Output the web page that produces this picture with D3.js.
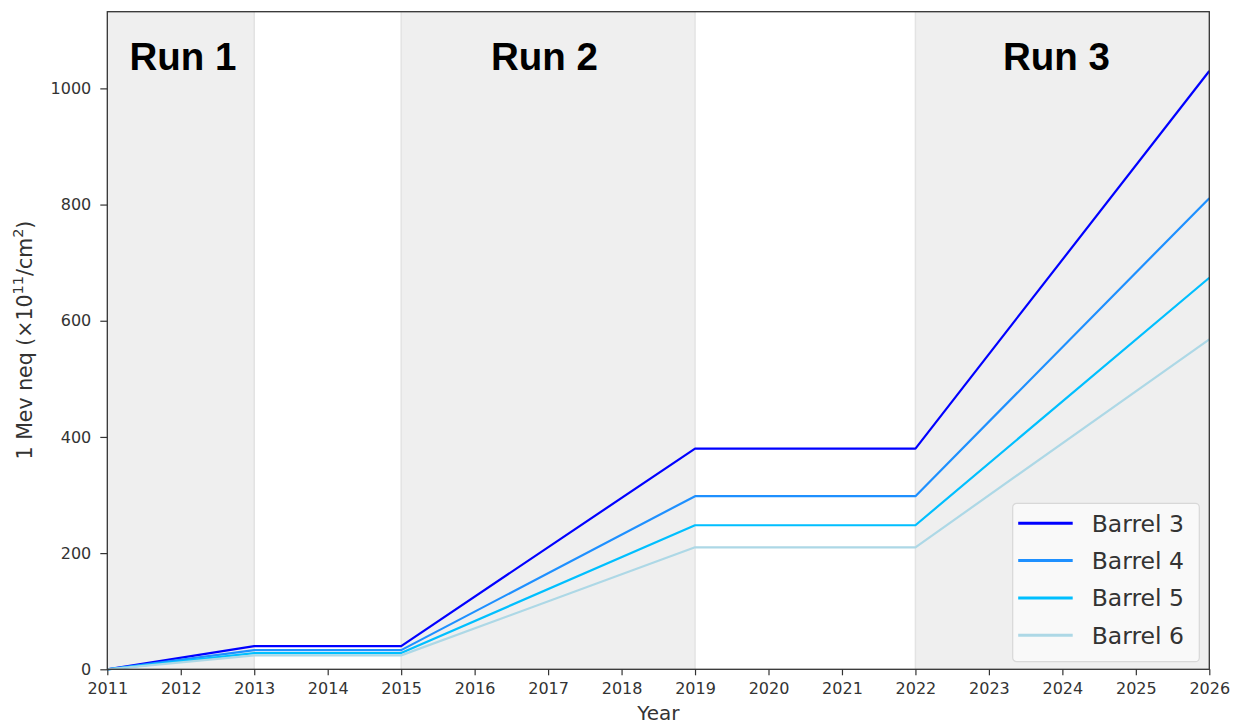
<!DOCTYPE html>
<html>
<head>
<meta charset="utf-8">
<script src="https://cdn.jsdelivr.net/npm/d3@7"></script>
<style>
  html, body { margin: 0; padding: 0; background: #fff; }
  svg { display: block; }
</style>
</head>
<body>
<svg id="chart" width="1235" height="725"></svg>
<script>
// Fluence per barrel layer over the LHC run periods
const years = [2011, 2013, 2015, 2019, 2022, 2026];
const barrel3 = [0, 40, 40, 380, 380, 1030];
const barrel4 = [0, 33, 33, 298, 298, 811];
const barrel5 = [0, 28, 28, 248, 248, 674];
const barrel6 = [0, 24, 24, 210, 210, 568];

const seriesNames = ["Barrel 3", "Barrel 4", "Barrel 5", "Barrel 6"];
const seriesColors = ["#0000ff", "#1e90ff", "#00bfff", "#add8e6"];

// Shaded run periods and their labels
const runNames = ["Run 1", "Run 2", "Run 3"];
const runStart = [2011, 2015, 2022];
const runEnd = [2013, 2019, 2026];
const runLabelX = [2012.03, 2016.95, 2023.92];

const xTicks = d3.range(2011, 2027);
const yTicks = [0, 200, 400, 600, 800, 1000];

const margin = { left: 107.3, right: 1235 - 1209.3, top: 11.7, bottom: 725 - 669.3 };
const W = 1235, H = 725;

const svg = d3.select("#chart");
const x = d3.scaleLinear().domain([2011, 2026]).range([margin.left, W - margin.right]);
const y = d3.scaleLinear().domain([0, 1132]).range([H - margin.bottom, margin.top]);

const tickFont = "'DejaVu Sans', sans-serif";

// Run bands
svg.append("g").selectAll("rect")
  .data(runNames.map((n, i) => ({ n, a: runStart[i], b: runEnd[i] })))
  .join("rect")
  .attr("x", d => x(d.a))
  .attr("y", y.range()[1])
  .attr("width", d => x(d.b) - x(d.a))
  .attr("height", y.range()[0] - y.range()[1])
  .attr("fill", "#efefef");

// Faint band edges
svg.append("g").selectAll("line")
  .data(runStart.concat(runEnd).filter(v => v !== 2011 && v !== 2026))
  .join("line")
  .attr("x1", d => x(d)).attr("x2", d => x(d))
  .attr("y1", y.range()[0]).attr("y2", y.range()[1])
  .attr("stroke", "#e3e3e3").attr("stroke-width", 1.5);

// Run labels
svg.append("g").selectAll("text")
  .data(runNames)
  .join("text")
  .attr("x", (d, i) => x(runLabelX[i]))
  .attr("y", 70)
  .attr("text-anchor", "middle")
  .attr("font-family", "'Liberation Sans', Arial, sans-serif")
  .attr("font-weight", "bold")
  .attr("font-size", 38.5)
  .attr("fill", "#000")
  .text(d => d);

// Series lines
const series = [barrel3, barrel4, barrel5, barrel6];
const line = d3.line().x((d, i) => x(years[i])).y(d => y(d));
svg.append("g").selectAll("path")
  .data(series)
  .join("path")
  .attr("d", d => line(d))
  .attr("fill", "none")
  .attr("stroke", (d, i) => seriesColors[i])
  .attr("stroke-width", 2.2)
  .attr("stroke-linejoin", "round");

// Axes
const xAxis = svg.append("g")
  .attr("transform", `translate(0,${y(0)})`)
  .call(d3.axisBottom(x).tickValues(xTicks).tickFormat(d3.format("d")).tickSizeOuter(0).tickSize(6).tickPadding(7));
const yAxis = svg.append("g")
  .attr("transform", `translate(${x(2011)},0)`)
  .call(d3.axisLeft(y).tickValues(yTicks).tickFormat(d3.format("d")).tickSizeOuter(0).tickSize(7).tickPadding(9));

[xAxis, yAxis].forEach(g => {
  g.select(".domain").remove();
  g.selectAll(".tick line").attr("stroke", "#333").attr("stroke-width", 1.2);
  g.selectAll(".tick text")
    .attr("font-family", tickFont)
    .attr("font-size", 16)
    .attr("fill", "#333");
});

// Frame
svg.append("rect")
  .attr("x", x.range()[0]).attr("y", y.range()[1])
  .attr("width", x.range()[1] - x.range()[0])
  .attr("height", y.range()[0] - y.range()[1])
  .attr("fill", "none")
  .attr("stroke", "#333")
  .attr("stroke-width", 1.3);

// Axis titles
svg.append("text")
  .attr("x", (x.range()[0] + x.range()[1]) / 2)
  .attr("y", 720)
  .attr("text-anchor", "middle")
  .attr("font-family", tickFont)
  .attr("font-size", 20)
  .attr("fill", "#333")
  .text("Year");

const yl = svg.append("text")
  .attr("transform", `translate(32,340) rotate(-90)`)
  .attr("text-anchor", "middle")
  .attr("font-family", tickFont)
  .attr("font-size", 20.5)
  .attr("fill", "#333");
yl.append("tspan").text("1 Mev neq (×10");
yl.append("tspan").attr("dy", -9).attr("font-size", 14.5).text("11");
yl.append("tspan").attr("dy", 9).text("/cm");
yl.append("tspan").attr("dy", -9).attr("font-size", 14.5).text("2");
yl.append("tspan").attr("dy", 9).text(")");

// Legend
const lg = svg.append("g").attr("transform", "translate(1012.7,503.3)");
lg.append("rect")
  .attr("width", 186.6).attr("height", 158.4)
  .attr("rx", 4).attr("ry", 4)
  .attr("fill", "#fafafa").attr("fill-opacity", 0.9)
  .attr("stroke", "#d8d8d8").attr("stroke-width", 1.2);
const rows = lg.selectAll("g.row")
  .data(seriesNames)
  .join("g")
  .attr("class", "row")
  .attr("transform", (d, i) => `translate(0,${20 + i * 37.3})`);
rows.append("line")
  .attr("x1", 5.5).attr("x2", 60)
  .attr("stroke", (d, i) => seriesColors[i])
  .attr("stroke-width", 3);
rows.append("text")
  .attr("x", 79)
  .attr("y", 8.5)
  .attr("font-family", tickFont)
  .attr("font-size", 23.5)
  .attr("fill", "#333")
  .text(d => d);
</script>
</body>
</html>
